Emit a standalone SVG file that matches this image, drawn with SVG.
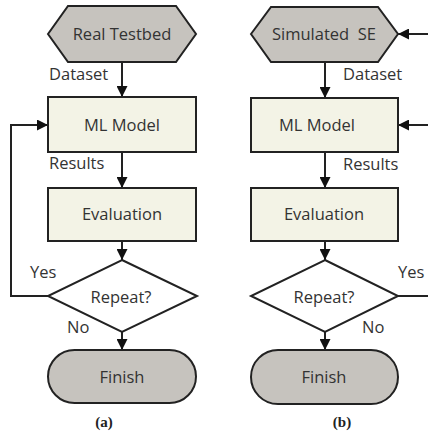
<svg xmlns="http://www.w3.org/2000/svg" width="428" height="431" viewBox="0 0 428 431">
<style>
.hex{fill:#c6c3be;stroke:#222;stroke-width:2}
.box{fill:#f3f3e6;stroke:#222;stroke-width:2}
.dia{fill:#fff;stroke:#222;stroke-width:2}
.fin{fill:#c6c3be;stroke:#222;stroke-width:2}
.t{font-family:"Open Sans","Noto Sans",sans-serif;font-size:16.5px;fill:#333;text-anchor:middle}
.l{font-family:"Open Sans","Noto Sans",sans-serif;font-size:16.5px;fill:#333}
.cap{font-family:"Liberation Serif",serif;font-size:15px;font-weight:bold;fill:#222;text-anchor:middle}
.c{fill:none;stroke:#222;stroke-width:2}
</style>
<defs>
<marker id="ah" markerUnits="userSpaceOnUse" markerWidth="11" markerHeight="11" refX="11" refY="5.5" orient="auto">
<path d="M0,0 L11,5.5 L0,11 z" fill="#111"/>
</marker>
</defs>
<rect width="428" height="431" fill="#fff"/>
<g id="connectors">
<line class="c" x1="122" y1="62" x2="122" y2="97" marker-end="url(#ah)"/>
<line class="c" x1="122" y1="152" x2="122" y2="188" marker-end="url(#ah)"/>
<line class="c" x1="122" y1="241" x2="122" y2="260" marker-end="url(#ah)"/>
<line class="c" x1="122" y1="332" x2="122" y2="350" marker-end="url(#ah)"/>
<polyline class="c" points="48,296 11,296 11,125 48,125" marker-end="url(#ah)"/>
<line class="c" x1="325" y1="62" x2="325" y2="98" marker-end="url(#ah)"/>
<line class="c" x1="325" y1="152" x2="325" y2="188" marker-end="url(#ah)"/>
<line class="c" x1="325" y1="241" x2="325" y2="260" marker-end="url(#ah)"/>
<line class="c" x1="325" y1="332" x2="325" y2="350" marker-end="url(#ah)"/>
<line class="c" x1="398" y1="296" x2="428" y2="296"/>
<line class="c" x1="428" y1="34" x2="398" y2="34" marker-end="url(#ah)"/>
<line class="c" x1="428" y1="125" x2="398" y2="125" marker-end="url(#ah)"/>
<text class="l" x="49" y="80">Dataset</text>
<text class="l" x="49" y="169">Results</text>
<text class="l" x="30" y="278">Yes</text>
<text class="l" x="67" y="333">No</text>
<text class="l" x="343" y="80">Dataset</text>
<text class="l" x="343" y="170">Results</text>
<text class="l" x="398" y="278">Yes</text>
<text class="l" x="362" y="333">No</text>
</g>
<g id="real-testbed">
<polygon class="hex" points="48,34 68,6 176,6 196,34 176,62 68,62"/>
<text class="t" x="122" y="40">Real Testbed</text>
</g>
<g id="ml-model-a">
<rect class="box" x="48" y="97" width="148" height="55"/>
<text class="t" x="122" y="131">ML Model</text>
</g>
<g id="evaluation-a">
<rect class="box" x="48" y="188" width="148" height="53"/>
<text class="t" x="122" y="220">Evaluation</text>
</g>
<g id="repeat-a">
<polygon class="dia" points="122,260 197,296 122,332 48,296"/>
<text class="t" x="121" y="303">Repeat?</text>
</g>
<g id="finish-a">
<rect class="fin" x="48" y="350" width="148" height="53" rx="26.5"/>
<text class="t" x="122" y="383">Finish</text>
</g>
<g id="simulated-se">
<polygon class="hex" points="251,34 271,7 378,7 398,34 378,62 271,62"/>
<text class="t" x="324" y="40" xml:space="preserve">Simulated  SE</text>
</g>
<g id="ml-model-b">
<rect class="box" x="251" y="98" width="147" height="54"/>
<text class="t" x="317" y="131">ML Model</text>
</g>
<g id="evaluation-b">
<rect class="box" x="251" y="188" width="147" height="53"/>
<text class="t" x="324" y="220">Evaluation</text>
</g>
<g id="repeat-b">
<polygon class="dia" points="325,260 398,296 325,332 251,296"/>
<text class="t" x="324" y="303">Repeat?</text>
</g>
<g id="finish-b">
<rect class="fin" x="251" y="350" width="147" height="54" rx="27"/>
<text class="t" x="324" y="383">Finish</text>
</g>
<text class="cap" x="104" y="427">(a)</text>
<text class="cap" x="342" y="427">(b)</text>
</svg>
